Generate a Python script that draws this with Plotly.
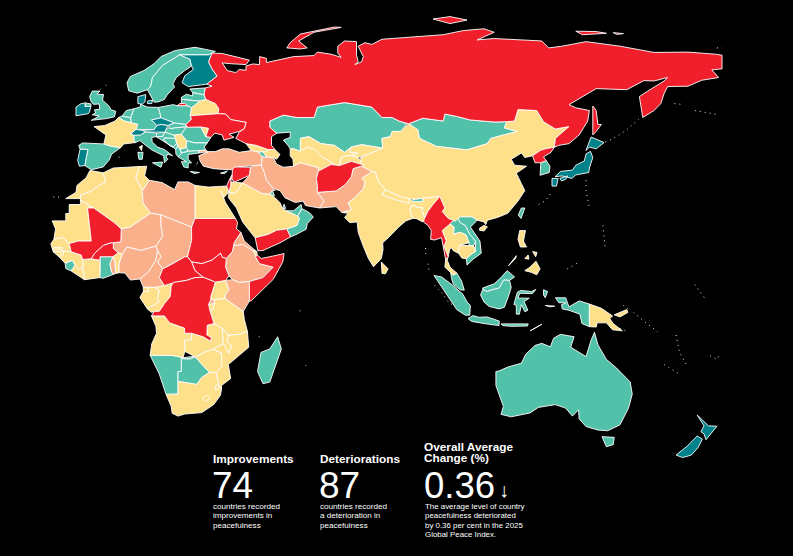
import plotly.graph_objects as go

# outlines, as (lon, lat)
rus = [(28,59.5),(30,60),(28.5,60.6),(31.5,62.9),(30,65),(29,67),(30,69.5),(33,69.4),(41,67.5),(40,66.2),(35,66.5),(33,66.7),(34.5,64.5),(37,63.9),(38,64.8),(40,64.6),(40,65.8),(42,66.4),(44,66.2),(44,68.5),(46,68),(46,66.8),(54,68.5),(60,68.8),(61,69.8),(65,69.2),(68,68.3),(67,69.5),(67,71.5),(69,73),(72.5,72.8),(72.5,69),(73,67),(72,66.2),(74,67),(74.5,68.5),(73,71.5),(75,72.5),(77,72),(80,73.5),(87,74),(98,74.8),(104,76),(110,76.5),(113,75.5),(108,73.3),(113,73.7),(127,73),(129,71),(133,71.5),(140,72.8),(150,71.5),(160,69.7),(170,69.8),(178,69.2),(180,68.9),(180,65),(177,64.7),(179,62.5),(174,61.7),(170,60),(164,59.9),(163,58),(162,55),(160,53),(156.7,51),(155.7,57),(158,58.5),(163,61.5),(164,62.5),(160,61.5),(157,61.6),(152,59),(143,59.3),(135,54.7),(137,53.8),(141,53),(140.5,50),(138,46),(135,43.5),(132,43),(130.7,42.5),(131,45),(135,48.4),(131,47.7),(127.5,49.8),(125.5,53),(120,53.3),(119,50),(116.7,49.8),(113,49.7),(106,50.3),(102,51.3),(98.5,52),(98,50),(92,50.8),(87.8,49.2),(85,50),(83,51),(80,51),(77,54),(71,55),(69,55.3),(61,54),(60,51),(55,51),(51,51.7),(47,50),(47,48.2),(49,46.5),(47.5,45.5),(47.5,43),(48.5,41.8),(46.5,41.8),(43,43),(40,43.5),(37,45),(38,46.8),(39.5,47.8),(40,49.6),(35.5,50.4),(34,52),(31.8,52.1),(32,53.5),(31,55),(28.2,56.2),(27.7,57.5)]
kaliningrad = [(19.8,54.4),(22.8,54.4),(22,55.1),(20.5,55)]
novaya_zemlya = [(52,71),(56,70.7),(58,71),(55.5,73),(60,75.5),(68,76.9),(66,77),(56,75),(53,72.5)]
sakhalin = [(142,54.3),(143,53),(143.5,49),(144.5,49),(143,47),(142,46),(142,50)]
new_siberia = [(137,75.8),(143,75.7),(146,75.2),(139,74.8)]
new_siberia2 = [(148,75.4),(151,75.1),(149,74.9)]
severnaya = [(95,79.3),(100,80),(105,79),(100,78)]
kaz = [(47,50),(51,51.7),(55,51),(60,51),(61,54),(69,55.3),(71,55),(77,54),(80,51),(83,51),(85,50),(87.3,49.2),(85.5,47),(83,47),(82.5,45.5),(80,45),(80.2,42.2),(74,43.2),(71,42.5),(69,41),(66,43),(62,43.5),(58.5,45.5),(56,45),(56,41.3),(54,42),(53,42),(52.5,42.8),(51,44.5),(53,45.3),(53,46.8),(49,46.5),(47,48.2)]
mng = [(87.8,49.2),(92,50.8),(98,50),(98.5,52),(102,51.3),(106,50.3),(113,49.7),(116.7,49.8),(116,48),(119.8,47),(112,45),(111,43.5),(105,41.7),(96,42.7),(91,45),(90.5,47.5)]
chn = [(73.7,39.5),(74,37),(76,35.5),(78,35.3),(79,32.5),(81,30.2),(86,28),(89,27.5),(92,27.8),(97,28.3),(98.5,25),(97.7,24),(99.5,22),(101.5,21.2),(103,22.5),(106.5,22.5),(108,21.5),(110,21),(110.5,20.2),(111,21.5),(114,22.3),(117,23.5),(120,27),(122,30),(121,32),(119.5,35),(122.5,37),(119,37.3),(118,39),(121,40.8),(122,39.5),(124.3,40),(126.5,41.5),(128,42),(130.7,42.5),(131,45),(135,48.4),(131,47.7),(127.5,49.8),(125.5,53),(120,53.3),(119,50),(116.7,49.8),(116,48),(119.8,47),(112,45),(111,43.5),(105,41.7),(96,42.7),(91,45),(90.5,47.5),(87.8,49.2),(85.5,47),(83,47),(82.5,45.5),(80,45),(80.2,42.2),(76,40.5)]
hainan = [(108.7,19.2),(110,20),(111,19.6),(110,18.4),(108.7,18.6)]
ind = [(77,35.5),(78,35.3),(79,32.5),(81,30.2),(80,28.8),(84,27.4),(88,26.4),(88,27.8),(89,26.8),(92,26.8),(92,27.8),(97,28.3),(95,26),(93.5,24),(92.5,22),(92,23.8),(91.5,24.2),(92.2,25),(89.8,25.3),(89,26),(88.2,24.5),(89,22),(87,21.3),(85,19.6),(82,16.6),(80.2,15),(80.3,13),(79.8,10.5),(77.5,8.1),(76,10.5),(74.5,14),(73,18),(72.7,21),(70.5,20.8),(69,22.3),(70,23.5),(68.2,23.7),(71,24.5),(70,26.5),(72,28),(74.5,30.5),(75,32.5),(74,33.5)]
pak = [(61.6,25),(66.5,25.4),(68.2,23.7),(71,24.5),(70,26.5),(72,28),(74.5,30.5),(75,32.5),(74,33.5),(77,35.5),(74,37),(71.5,36.3),(71,34),(69.3,31.8),(66.5,29.9),(61,29.5),(63,27)]
afg = [(61,29.5),(66.5,29.9),(69.3,31.8),(71,34),(71.5,36.3),(74.8,37.3),(71,38.4),(67.5,37.2),(65,37.5),(61.3,35.6),(60.7,33.5),(61,31.4)]
irn = [(44.8,39.7),(48,39.5),(49,37.6),(51,36.7),(54,37),(56,38),(61.2,36.6),(61.3,35.6),(60.7,33.5),(61,31.4),(61,29.5),(63,27),(61.6,25),(57.5,25.7),(56.8,27),(54.5,26.6),(51.5,27.9),(50,30),(48.8,30.3),(47.7,31),(46,33),(45.5,35),(44.5,37.3)]
irq = [(44.5,37.3),(45.5,35),(46,33),(47.7,31),(48.5,30),(47.7,30),(47,29),(44.7,29.2),(39,32.2),(41,34.4),(41.3,36.7),(42.5,37.2)]
syr = [(36,36),(36.7,36.8),(41.3,36.7),(41,34.4),(38.8,33.4),(36.5,32.4),(35.9,33.4)]
lbn = [(35.1,33.1),(35.9,33.4),(36.5,34.6),(35.9,34.6)]
isr = [(34.3,31.3),(35,29.5),(35.5,31.5),(35.6,33.2),(35.1,33.1)]
jor = [(35,29.4),(36.9,29.2),(38,30.5),(39,32.2),(36.5,32.4),(35.5,32.5),(35.5,31.5)]
tur = [(26.1,40),(26.5,38.5),(27.5,37),(30.5,36.3),(33,36.1),(36,36),(36.7,36.8),(42.5,37.2),(44.5,37.3),(44.8,39.7),(43.5,41.1),(41.5,41.5),(38,41),(35,42),(33,42),(31,41.2),(29,41.2)]
tur_thrace = [(26.2,40.8),(26.2,41.5),(28.2,41.6),(29,41.1),(27.5,41)]
geo = [(40,43.5),(43,43),(46.5,41.8),(46,41.2),(43.5,41.1),(41.5,41.5)]
arm = [(43.5,41.1),(45,41.2),(46.5,39),(44.8,39.7)]
aze = [(46.5,41.8),(48.5,41.8),(50,40.4),(49,39),(48,39.5),(46.5,39),(45,41.2),(46,41.2)]
sau = [(34.8,28),(35,29.4),(36.9,29.2),(39,32.2),(44.7,29.2),(47,29),(48.5,28),(50,26.5),(50.8,24.8),(51.6,24.2),(55.2,22.7),(55.7,22),(55,20),(52,19),(49,18.6),(46.5,17.4),(43.2,16.6),(42.7,16.4),(39,21),(37.2,25)]
yem = [(42.7,16.4),(43.2,16.6),(46.5,17.4),(49,18.6),(52,19),(53.1,16.7),(50,15),(45,12.8),(43.5,12.7),(43,14.5)]
omn = [(55,20),(55.7,22),(55.2,22.7),(56.3,24.5),(56.5,24.8),(58.7,23.6),(59.8,22.4),(58,20.5),(57.7,18.9),(55,17.5),(53.1,16.7),(52,19)]
are = [(51.6,24.2),(54,24.2),(56.2,26),(56.4,24.9),(55.2,22.7)]
qat = [(50.8,24.8),(51.2,26.1),(51.6,25),(51.5,24.6)]
kwt = [(47,29),(47.7,30),(48.4,28.6),(47.7,28.5)]
tkm = [(53,42),(54,42),(56,41.3),(58,42.5),(60,42),(62,40),(66.5,37.3),(65,37.5),(61.3,35.6),(61.2,36.6),(56,38),(54,37),(53.8,39),(53,40)]
uzb = [(56,45),(58.5,45.5),(62,43.5),(66,43),(69,41),(71,42.5),(70.5,41),(73,40.8),(71,40),(68,39.5),(67.5,37.2),(66.5,37.3),(62,40),(60,42),(58,42.5),(56,41.3)]
kgz = [(69.5,40),(73,39.5),(76,40.5),(80.2,42.2),(74,43.2),(71,42.5),(70.5,41),(73,40.8),(71,40)]
tjk = [(67.5,37.2),(68,39.5),(69.5,40),(71,40),(73,39.5),(74.8,37.3),(71,38.4)]
npl = [(80,28.8),(81,30.2),(86,28),(88,27.8),(88,26.4),(84,27.4)]
btn = [(89,26.8),(89,27.5),(92,27.8),(92,26.8)]
bgd = [(88.2,24.5),(89,26),(89.8,25.3),(92.2,25),(91.5,24.2),(92,23.8),(92.5,22),(92,21),(90,22),(89,22)]
mmr = [(92.2,21),(92.5,22),(93.5,24),(95,26),(97,28.3),(98.5,25),(97.7,24),(99.5,22),(101,21.5),(100,20.4),(97.7,18.5),(98.9,15.5),(98.2,14),(99.5,11),(98.7,10.3),(98,14),(97.5,16.5),(95.5,15.8),(94.3,16),(94.5,18.5),(93.5,20)]
tha = [(100,20.4),(101.2,19.5),(101,17.5),(103,18),(104.7,17.3),(105.6,15),(102.8,14.3),(102.5,12),(101,12.7),(100.5,13.5),(100,13.4),(99.2,10),(100,8),(102,6.3),(101,5.7),(100.2,6.5),(98.5,8),(98.7,10.3),(99.5,11),(98.2,14),(98.9,15.5),(97.7,18.5)]
lao = [(100,20.4),(101,21.5),(102.2,22.4),(103,20.8),(104.5,20),(105.8,17.5),(107.5,15.5),(107,14.2),(105.6,14.2),(105.6,15),(104.7,17.3),(103,18),(101,17.5),(101.2,19.5)]
vnm = [(102.2,22.4),(103,22.5),(106.5,22.5),(108,21.5),(106,19.5),(108.8,15.5),(109.2,12),(106.8,10.3),(105,8.6),(104.8,10.4),(106,11.5),(107.5,12.5),(107.5,15.5),(105.8,17.5),(104.5,20),(103,20.8)]
khm = [(102.5,12),(102.8,14.3),(105.6,14.2),(107,14.2),(107.5,12.5),(106,11.5),(104.8,10.4),(103.5,10.6)]
mys_west = [(100.2,6.5),(101,5.7),(102,6.3),(103.4,4),(104.2,1.4),(103,1.5),(101,3),(100.4,5)]
mys_east = [(109.6,2),(111.4,2.7),(113,3.2),(115,5),(116.8,7),(119,5.2),(117.5,4.2),(115.8,4.3),(114.5,2),(112,1.4),(111,1),(109.7,1.5)]
kalimantan = [(109.6,1.5),(111,1),(112,1.4),(114.5,2),(115.8,4.3),(117.5,4.2),(118,2.2),(117.5,0.5),(116,-3.5),(114.5,-4),(111.5,-3.3),(110,-2),(109,0)]
sumatra = [(95.3,5.6),(97.5,5.2),(100.5,3),(103.8,0.2),(105,-2),(106,-3),(105.8,-5.8),(104.5,-5.8),(102,-4.2),(100.3,-1.8),(98.3,1.2)]
java = [(105.3,-6.8),(106.7,-5.9),(108.5,-6.4),(110.9,-6.3),(114.5,-7.5),(114.4,-8.8),(110,-8.2),(106.4,-7.6)]
sulawesi = [(119.8,0.8),(120.8,1.3),(124,1),(125.2,1.6),(124.3,0.4),(120.5,0.5),(120,-0.9),(121.5,-0.9),(123.3,-0.9),(121.8,-1.9),(122.9,-4.4),(122,-4.8),(121,-2.8),(120.4,-5.5),(119.5,-5.5),(119.5,-3),(118.8,-2.7)]
sunda = [(115,-8.3),(119,-8.3),(123,-8.3),(122.8,-8.9),(118,-9),(115.5,-8.8)]
timor = [(123.6,-10.3),(127,-8.4),(125,-9.6)]
halmahera = [(127.5,1.5),(128.7,1),(128,-0.8),(127.5,0)]
seram = [(128,-3),(130.8,-3.2),(129.5,-3.4)]
papua = [(131,-0.8),(134,-0.8),(135,-3.4),(138,-1.7),(141,-2.6),(141,-9.1),(138.8,-8.2),(138.2,-5.5),(135,-4.4),(133,-4),(132.8,-2.8),(134,-2.3),(132,-2.2)]
png = [(141,-2.6),(144.5,-3.8),(147.8,-6),(147,-6.8),(148,-8.2),(150.7,-10.3),(147.8,-10),(146,-8),(143.3,-8),(143,-9.2),(141,-9.1)]
new_britain = [(148.3,-5.7),(152,-4.2),(152.3,-5),(150,-6.3)]
luzon = [(120.5,18.5),(122.2,18.5),(121.6,15.5),(122.5,13.8),(120.7,13.8),(120,16)]
mindanao = [(122,7),(123.5,8),(125.3,9.7),(126.5,7.5),(125.5,5.8),(124,6.5)]
samar = [(124.3,12.5),(125.6,12.2),(125.2,11)]
panay = [(122,10.5),(123,11.5),(123.2,10.3)]
palawan = [(117.2,8.4),(119.5,11.3),(119.3,10.5)]
twn = [(120.1,23),(121,25),(122,25),(120.9,22)]
prk = [(124.3,40),(126.5,41.5),(128,42),(130.7,42.5),(129.7,41),(127.5,39.7),(128.3,38.6),(126.7,38),(125,38)]
kor = [(126.7,38),(128.3,38.6),(129.4,37),(129.2,35.2),(126.5,34.4),(126.5,36.5)]
honshu = [(130.9,34),(132.5,35.5),(136,35.9),(137,37.3),(139.5,38.5),(140,40.5),(141.3,41.3),(142,39.5),(141,36.5),(140.8,35.2),(137,34.5),(135.8,33.5),(133,34.2)]
hokkaido = [(140,41.5),(141.5,45.4),(145.3,43.8),(143,42),(141,42.5)]
kyushu = [(130,33.5),(131.8,33.5),(131.3,31.3),(130,31.3)]
shikoku = [(132.3,33.5),(134.6,34.2),(134,33.2),(132.8,32.8)]
lka = [(79.8,9.5),(81.8,7.5),(81,6.1),(80,6.2)]

ukr = [(24,50.5),(23.6,51.5),(31.8,52.1),(34,52),(35.5,50.4),(40,49.6),(39.5,47.8),(38,47),(35,46.2),(36.5,45.3),(33.5,44.5),(33,46),(30.8,46.5),(29.7,45.3),(28.2,45.5),(29,47.9),(26.7,48.3),(22.8,48.2),(22.3,49)]
blr = [(23.6,51.5),(31.8,52.1),(32,53.5),(31,55),(28.2,56.2),(26.5,55.7),(24,53.8)]
mda = [(26.7,48.3),(29,47.9),(30,46.5),(28.2,45.5)]
pol = [(14.2,53.9),(18.6,54.7),(19.8,54.4),(22.8,54.4),(24,53.8),(23.6,51.5),(24,50.5),(22.3,49),(19,49.4),(15,50.9),(14.7,52.3)]
deu = [(6.1,51),(7,53.5),(8.9,54),(9,54.8),(11,54),(14.2,53.9),(14.7,52.3),(15,50.9),(12.2,50.3),(13.8,48.7),(13,47.5),(7.6,47.6),(8.2,49),(6.2,49.5)]
cze = [(12.2,50.3),(15,50.9),(18.8,49.5),(17,48.7),(15,49),(13.8,48.7)]
svk = [(17,48.7),(18.8,49.5),(19,49.4),(22.3,49),(22.5,48.3),(19,48),(18,47.8)]
aut = [(9.5,47.3),(13,47.5),(13.8,48.7),(15,49),(17,48.7),(16.1,46.8),(12.2,46.8),(10.4,46.9)]
hun = [(16.1,46.8),(17,48.1),(18,47.8),(19,48),(22.5,48.3),(21,46.2),(18.8,45.9)]
che = [(6,46.2),(7.6,47.6),(9.5,47.3),(10.4,46.9),(9,46),(7,45.9)]
svn = [(13.6,45.5),(13.7,46.5),(16.1,46.8),(15.5,45.6)]
hrv = [(13.6,45.5),(15.5,45.6),(16.1,46.8),(18.8,45.9),(19.3,45),(16,45.2),(15.8,44.5),(17.5,43),(18.5,42.5),(15,44.6),(14.3,45.2)]
bih = [(16,45.2),(19.3,45),(19.6,43.5),(18.5,42.5),(17.5,43),(15.8,44.5)]
srb = [(18.8,45.9),(21,46.2),(22.5,44.3),(22.4,42.4),(20.6,41.9),(20,42.9),(19.6,43.5),(19.3,45)]
mne = [(18.5,42.5),(19.6,43.5),(20,42.9),(19.3,41.9)]
alb = [(19.3,41.9),(20,42.9),(20.6,41.9),(21,40.6),(20,39.7),(19.4,40.5)]
mkd = [(20.6,41.9),(22.4,42.4),(23,41.3),(21,40.9)]
bgr = [(22.5,44.3),(25,43.7),(28.6,43.7),(27.7,42.5),(28.2,41.6),(26.2,41.5),(23,41.3),(22.4,42.4)]
rou = [(21,46.2),(22.5,48.3),(22.8,48.2),(26.7,48.3),(28.2,45.5),(29.7,45.3),(28.6,43.7),(25,43.7),(22.5,44.3)]
grc = [(20,39.7),(21,40.6),(21,40.9),(23,41.3),(26.2,41.5),(26.2,40.8),(23,40.4),(23,39),(24,38),(23,37.9),(23,36.5),(21.7,36.8),(21,38.3),(22.5,38.3)]
crete = [(23.6,35.5),(26.3,35.2),(24.8,34.9)]
cyprus = [(32.5,35),(34.5,35.6),(33.7,34.9)]
ita = [(7,45.9),(9,46),(10.4,46.9),(12.2,46.8),(13.7,46.5),(13.6,45.5),(12.3,45.3),(12.4,44),(14,42.5),(16,41.8),(18.4,40),(17,40.5),(16.5,39.7),(17,39),(16,38),(15.8,40),(14,41),(12.3,41.7),(10.5,43),(8.8,44.4),(7.5,43.8),(7,44.5)]
sicily = [(12.5,38),(15.5,38.2),(15,36.7)]
sardinia = [(8.2,41),(9.7,41),(9.5,39),(8.5,39)]
corsica = [(8.6,42.5),(9.5,43),(9.3,41.5)]
fra = [(-1.8,43.4),(-1.2,46),(-4.7,48.4),(-1.5,48.7),(1.5,50),(2.5,51),(4.2,50),(6.2,49.5),(8.2,49),(7.6,47.6),(6,46.2),(7,45.9),(7,44.5),(7.5,43.8),(4,43.4),(3.2,42.4),(0.5,42.7)]
esp = [(-9.2,43),(-8,43.7),(-1.8,43.4),(0.5,42.7),(3.2,42.4),(0.5,40.5),(-0.3,38.7),(-2,36.8),(-5.5,36),(-7.4,37.2),(-7,39.5),(-6.5,41.8),(-8.8,41.9)]
prt = [(-8.8,41.9),(-6.5,41.8),(-7,39.5),(-7.4,37.2),(-9,37),(-9.5,38.7)]
bel = [(2.5,51),(3.5,51.4),(6,51),(6.2,49.5),(4.2,50)]
nld = [(3.5,51.4),(4.8,53),(7,53.5),(6.1,51)]
dnk = [(8.2,55),(8.2,57),(10.5,57.6),(10.3,55.5),(9.5,54.85)]
zealand = [(11,55.7),(12.5,56),(12.3,55),(11,55)]
gbr = [(-5.5,50.2),(-1,50.7),(1.3,51.2),(1.7,52.8),(0.3,53.2),(-0.2,54.2),(-1.3,55.2),(-2.2,56),(-1.9,57.6),(-3.8,57.7),(-3,58.6),(-5.2,58.6),(-6,57),(-5.5,55.5),(-4.9,54.8),(-3.2,54.9),(-3,53.4),(-4.6,53.2),(-4.2,52.3),(-5.2,51.8),(-3.2,51.4)]
n_ireland = [(-7.3,55.2),(-5.6,54.9),(-5.6,54.2),(-7.4,54.2)]
irl = [(-7.3,55.2),(-7.4,54.2),(-5.6,54.2),(-6.1,52.4),(-6.5,52.1),(-10,51.5),(-10,54),(-8.5,55)]
nor = [(5,61),(6,62.8),(10,64.5),(13,66.5),(15,68.5),(19,70.2),(25,71.2),(31,70),(30,69.5),(29,69),(25.5,69),(20.5,69),(15.5,66),(12.5,62.5),(12,60),(11,59),(8,58),(5.5,58.7)]
swe = [(11,59),(12,60),(12.5,62.5),(15.5,66),(20.5,69),(23.5,67.8),(24,65.8),(22,64.5),(19.5,62.5),(18.5,60.7),(19,59.8),(16.8,57.5),(16,56.2),(14.3,55.5),(13,55.4),(11.5,58)]
fin = [(20.5,69),(25.5,69),(29,69),(30,69.5),(29,67),(30,65),(31.5,62.9),(28.5,60.6),(23,59.9),(21.2,61),(22,63),(24.5,64.8),(24,65.8),(23.5,67.8)]
est = [(23.5,59.2),(28,59.5),(27.7,57.5),(25,58),(24.3,58.2)]
lva = [(21,56.8),(22.5,57.7),(24.3,57.2),(24.3,58.2),(25,58),(27.7,57.5),(28.2,56.2),(26.5,55.7),(21,56.2)]
ltu = [(21,56.2),(26.5,55.7),(24,53.8),(22.8,54.4),(21,55.2)]

mar = [(-5.9,35.8),(-2,35.1),(-1.2,32.5),(-3.5,31.3),(-5.5,29.8),(-8.7,28.7),(-8.7,27.7),(-13,27.7),(-10,29.5),(-9.7,31.5),(-7,33.7)]
mrt = [(-17,21.3),(-13,21.3),(-13,23.4),(-12,23.4),(-12,26),(-8.7,26),(-8.7,27.3),(-4.8,25),(-6.6,25),(-5.5,15.5),(-9.3,15.5),(-12,14.8),(-14,16.5),(-16.5,16),(-16,19)]
dza = [(-4.8,25),(1,21),(3.3,19),(6,19.5),(11.9,23.5),(9.7,26.5),(9.5,30.2),(7.6,33.5),(8.6,36.9),(1,36.5),(-2,35.1),(-1.2,32.5),(-3.5,31.3),(-5.5,29.8),(-8.7,28.7),(-8.7,27.3)]
tun = [(8.6,36.9),(10.8,37),(10.2,34.3),(11.5,33),(10,30.5),(9.5,30.2),(7.6,33.5)]
lby = [(11.5,33),(15.3,32.3),(19,30.3),(20,32.5),(23,32.5),(25,31.5),(25,22),(24,19.5),(15,23),(11.9,23.5),(9.7,26.5),(9.5,30.2),(10,30.5)]
egy = [(25,31.5),(29,31),(32,31.2),(34.3,31.3),(35,29.5),(33.5,28),(32.6,29.9),(34,26.5),(36.9,22),(25,22)]
sdn = [(25,22),(36.9,22),(37.5,20.8),(37.2,19),(38.5,18),(36.5,15),(36,12.5),(34.2,10.5),(33,10.8),(32.5,12),(30,10),(27,9),(24,9.5),(22.8,11),(24,15.7),(24,19.5)]
ssd = [(24,9.5),(27,9),(30,10),(32.5,12),(33,10.8),(34.2,10.5),(34,8),(35,5.5),(34,4.2),(31,3.7),(27.4,5.1),(25,7)]
caf = [(14.5,5),(15.5,7.5),(18.5,9),(22,11),(22.8,11),(24,9.5),(25,7),(27.4,5.1),(25,5),(22.5,4.2),(19,3.6),(16,2.7)]
cod = [(12.2,-6),(13,-4.7),(14.5,-4.7),(16,-2.5),(17.7,-0.5),(18,2.5),(18.6,3.6),(22.5,4.2),(25,5),(27.4,5.1),(31,3.7),(29.7,-0.3),(29.6,-1.4),(29,-2.7),(29.4,-4.5),(30.6,-8.2),(28.6,-8.7),(28.5,-11.5),(29.8,-12.2),(29.6,-13.3),(27.4,-12),(24,-11),(22,-11),(21.9,-9.5),(17.5,-8),(16,-6)]
rwa = [(29,-2.7),(29.6,-1.4),(30.5,-1.2),(30.8,-2.4)]
bdi = [(29,-2.7),(30.8,-2.4),(30.2,-4.3),(29.4,-4.5)]
uga = [(29.6,-1.4),(29.7,-0.3),(31,3.7),(34,4.2),(35,1.5),(33.9,0),(33.9,-1),(30.5,-1.2)]
ken = [(34,4.2),(36,4.4),(38,3.6),(41,3.9),(41,-1.7),(39.2,-4.7),(33.9,-1),(33.9,0),(35,1.5)]
tza = [(30.5,-1.2),(33.9,-1),(39.2,-4.7),(39.5,-7),(40.4,-10.4),(38,-11.3),(34.7,-11.5),(33,-9.5),(30.6,-8.2),(29.4,-4.5),(30.2,-4.3),(30.8,-2.4)]
eth = [(36,12.5),(36.5,14.3),(37.5,14.3),(39,14.6),(42,12.8),(43,11),(42.8,10.9),(44,9),(48,8),(45,5),(42,4.2),(41,3.9),(38,3.6),(36,4.4),(35,5.5),(34,8),(34.2,10.5)]
eri = [(36.5,15),(38.5,18),(39.5,15.5),(43,12.6),(42,12.8),(39,14.6),(37.5,14.3),(36.5,14.3)]
dji = [(42,12.8),(43.2,12.5),(43.3,11.5),(42.8,10.9)]
som = [(43.3,11.5),(44.5,10.5),(48,11.2),(51.2,11.9),(50.8,9.5),(48,4.5),(41.5,-1.7),(41,-1.7),(41,3.9),(42,4.2),(45,5),(48,8),(44,9),(42.8,10.9)]
tcd = [(15,23),(24,19.5),(24,15.7),(22.8,11),(22,11),(18.5,9),(15.5,7.5),(14,9.5),(15,11),(14,12.8),(13.5,14),(15.5,16.9),(15,20)]
ner = [(3.3,19),(6,19.5),(11.9,23.5),(15,23),(15,20),(15.5,16.9),(13.5,14),(9,12.8),(5,13.8),(3.6,11.7),(2.4,12.2),(1,13.3),(1,15),(3.2,15.3)]
mli = [(-12,14.8),(-9.3,15.5),(-5.5,15.5),(-6.6,25),(-4.8,25),(1,21),(3.3,19),(3.2,15.3),(1,15),(0,14.9),(-2,14.2),(-4.5,12),(-5.5,10.4),(-8,10.2),(-8.5,11.5),(-11.4,12.4)]
bfa = [(-5.5,10.4),(-4.5,12),(-2,14.2),(0,14.9),(1,15),(1,13.3),(2.4,12.2),(0.9,11),(-2.9,11),(-3,10)]
sen = [(-16.5,16),(-14,16.5),(-12,14.8),(-11.4,12.4),(-13.7,12.6),(-16.7,12.4),(-17.4,14.7)]
gmb = [(-16.8,13.6),(-14,13.6),(-14,13.2),(-16.8,13.2)]
gnb = [(-16.7,12.4),(-13.7,12.6),(-13.7,11.7),(-15,11)]
gin = [(-15,11),(-13.7,11.7),(-13.7,12.6),(-11.4,12.4),(-8.5,11.5),(-8,10.2),(-7.9,8),(-9,7.3),(-10.3,8.5),(-11,10),(-13.2,9.1)]
sle = [(-13.2,9.1),(-11,10),(-10.3,8.5),(-11.4,6.9),(-13,7.6)]
lbr = [(-11.4,6.9),(-10.3,8.5),(-9,7.3),(-8,7.7),(-7.5,4.4)]
civ = [(-8,10.2),(-5.5,10.4),(-3,10),(-2.9,8),(-3,5),(-7.5,4.4),(-8,7.7),(-7.9,8)]
gha = [(-3,5),(-2.9,8),(-3,10),(-2.9,11),(0.9,11),(0,9),(0.5,6.5),(1.2,6),(-2,4.8)]
tgo = [(1.2,6),(0.5,6.5),(0,9),(0.9,11),(1.4,9.5),(1.7,6.2)]
ben = [(1.7,6.2),(1.4,9.5),(0.9,11),(2.4,12.2),(3.6,11.7),(2.7,9),(2.7,6.4)]
nga = [(2.7,6.4),(2.7,9),(3.6,11.7),(5,13.8),(9,12.8),(13.5,14),(14,12.8),(13.5,10),(11.5,6.8),(8.8,4.6),(6,4.3),(4.4,6.3)]
cmr = [(8.8,4.6),(11.5,6.8),(13.5,10),(14,12.8),(15,11),(14,9.5),(15.5,7.5),(14.5,5),(16,2.7),(13,2.2),(9.8,2.3)]
gab = [(8.8,-0.7),(9.8,1),(11.3,1),(11.3,2.3),(13,2.2),(14.5,1.4),(14,-1),(14.5,-2),(11.8,-3.5),(11,-4)]
gnq = [(9.8,1),(9.8,2.3),(11.3,2.3),(11.3,1)]
cog = [(11,-4),(11.8,-3.5),(14.5,-2),(14,-1),(14.5,1.4),(13,2.2),(16,2.7),(18.6,3.6),(18,2.5),(17.7,-0.5),(16,-2.5),(14.5,-4.7),(13,-4.7),(12.2,-5)]
ago = [(11.8,-17.3),(14,-17.4),(18.5,-17.4),(21.5,-18),(22,-16.2),(22,-13),(24,-13),(24,-11),(22,-11),(21.9,-9.5),(17.5,-8),(16,-6),(12.2,-6),(13.5,-9),(13.7,-11),(12.3,-14)]
nam = [(11.8,-17.3),(14,-17.4),(18.5,-17.4),(21.5,-18),(25,-17.6),(23.5,-18.4),(21,-18.3),(21,-22),(20,-22),(20,-28.5),(17,-28.5),(16.5,-28.6),(14.5,-22.7)]
bwa = [(20,-22),(21,-22),(21,-18.3),(23.5,-18.4),(25,-17.8),(27.5,-20.5),(29.3,-22.2),(27,-23.7),(25.5,-25.7),(23,-25.3),(20,-24.8)]
zaf = [(16.5,-28.6),(17,-28.5),(20,-28.5),(20,-24.8),(23,-25.3),(25.5,-25.7),(27,-23.7),(29.3,-22.2),(31.3,-22.3),(32,-25.8),(32.8,-27),(32.5,-28.8),(30.5,-31.5),(27,-33.8),(22,-34.2),(20,-34.8),(18.3,-34),(18,-32)]
lso = [(27.2,-29.8),(28.5,-28.7),(29.4,-29.5),(28.2,-30.6)]
swz = [(31,-26),(32,-25.8),(32,-27),(31,-27.2)]
zwe = [(25.2,-17.8),(27.5,-20.5),(29.3,-22.2),(31.3,-22.3),(32.9,-20.5),(32.8,-16.7),(30.3,-15.6),(28,-16.3)]
zmb = [(22,-13),(24,-13),(24,-11),(27.4,-12),(29.6,-13.3),(29.8,-12.2),(28.5,-11.5),(28.6,-8.7),(30.6,-8.2),(33,-9.5),(33.3,-14),(30.3,-15.6),(28,-16.3),(25.2,-17.8),(22,-16.2)]
mwi = [(33,-9.5),(34.7,-11.5),(34.5,-13.5),(35.8,-14.6),(35,-16.8),(33.3,-14)]
moz = [(34.7,-11.5),(38,-11.3),(40.4,-10.4),(40.8,-15),(36,-19),(34.8,-20),(35.5,-24),(32.8,-26),(32.8,-27),(32,-25.8),(31.3,-22.3),(32.9,-20.5),(32.8,-16.7),(30.3,-15.6),(33.3,-14),(35,-16.8),(35.8,-14.6),(34.5,-13.5)]
mdg = [(49.3,-12),(50.4,-15.5),(47,-25),(45,-25.5),(43.4,-22),(44.4,-16.5),(47,-15.5)]

aus = [(113.5,-22),(114.5,-21.8),(117,-20.7),(121,-19.6),(122.3,-17),(125,-14.5),(127,-13.9),(129.5,-14.9),(130.5,-12.4),(132.5,-11.3),(136.5,-12),(135.5,-15),(140,-17.7),(141.5,-13),(142.5,-10.7),(143.5,-14.3),(146,-18.5),(149,-21),(153,-25),(153.6,-28.5),(152.5,-32.5),(150,-37.3),(146.4,-39),(143.5,-38.8),(140,-37.8),(138,-35.6),(137.8,-33),(136,-34.8),(134,-32.5),(131,-31.5),(126,-32.3),(123.5,-33.9),(118,-35),(115,-34.3),(115.7,-32),(113.5,-26)]
tasmania = [(144.7,-40.7),(148.3,-40.9),(148,-43),(146,-43.6)]
nzl_north = [(172.7,-34.5),(175.3,-36.8),(176,-37.6),(178.5,-37.7),(177,-39.5),(175.3,-41.6),(174.7,-39.9),(173.8,-39.3),(174.7,-37.6)]
nzl_south = [(172.7,-40.5),(174.2,-41.4),(173,-43.8),(171,-46),(168.4,-46.7),(166.5,-46),(169.8,-43.4)]

# small island chains, only visible as white specks
island_lines = [
    [(92.8,13.5),(92.9,11.5)], [(93.5,9),(93.8,7.2)], [(95.5,2.8),(97.5,0.8),(99.5,-2),(101,-3)],
    [(145.7,43.9),(149,45.5),(152,47.5),(155.5,50.5)], [(166,55),(168,54.8)], [(172,53),(176,52.3),(179,51.8)],
    [(129.5,29),(128,27),(126,26)], [(140,33),(140,30),(141,25)], [(145,20),(145.7,13)],
    [(154,-5),(157,-7.5),(161,-10.5)], [(166.5,-11.5),(167.5,-16.5),(169.5,-20)],
    [(163,-20),(167,-22.5)], [(176.5,-17.5),(178.5,-18.5),(179.5,-17)], [(150,-9.5),(152,-10.5)], [(151,-3),(153,-4.5)],
    [(-16.7,28.2),(-15.5,28),(-14,28.6)], [(2.5,39.6),(3.3,39.8)], [(25.5,37.5),(26,38.5),(25,37)],
    [(-1.3,60.4),(-1,60)], [(-3,59),(-2.8,59.1)], [(56,-4.6),(55.5,-4.4)], [(57.5,-20.2),(57.7,-20.4)],
    [(44,-12),(43.4,-11.7)], [(134.5,7.5),(138,9.5)], [(172,3),(175,-1)],
    [(178.5,71),(180,71.2)],
]

teal = [nor, swe, est, lva, ltu, gbr, n_ireland, esp, deu, pol, svk, hun, rou, bgr, grc, crete, cyprus, alb, mkd, mne,
        bih, hrv, svn, ita, sicily, sardinia, bel, nld, arm, kwt, qat, are, omn, kaz, mng, btn, lao, vnm, mys_west, mys_east,
        kalimantan, sumatra, java, sulawesi, sunda, timor, halmahera, seram, papua, kor, twn, aus, tasmania, mdg, nam, bwa,
        sle, gha]
dark_teal = [fin, dnk, zealand, irl, prt, cze, aut, che, honshu, hokkaido, kyushu, shikoku, nzl_north, nzl_south]
yellow = [fra, corsica, blr, mda, srb, geo, aze, jor, sau, tkm, uzb, kgz, tjk, chn, hainan, ind, npl, bgd, lka, tha, khm,
          luzon, mindanao, samar, panay, palawan, png, new_britain, mar, mrt, dza, tun, egy, sen, gmb, gnb, gin, lbr, civ, ben, gab, gnq,
          cog, ago, zaf, lso, swz, zwe, zmb, mwi, moz, tza, uga, bdi, dji]
salmon = [tur, tur_thrace, irq, irn, lbn, pak, lby, ner, tcd, nga, cmr, tgo, eth, eri, ken, rwa]
red = [rus, kaliningrad, novaya_zemlya, sakhalin, new_siberia, new_siberia2, severnaya, ukr, syr, isr, yem, afg, mmr, prk, mli, bfa,
       sdn, ssd, caf, cod, som]

group_colours = [("#52C1A9", teal), ("#00828A", dark_teal), ("#FFE08A", yellow), ("#F9B08B", salmon), ("#F01F2B", red)]

fig = go.Figure()

for colour, polygons in group_colours:
    for polygon in polygons:
        lons, lats = zip(*polygon)
        fig.add_trace(go.Scatter(x=lons + lons[:1], y=lats + lats[:1], mode="lines", fill="toself",
                                 fillcolor=colour, line=dict(color="white", width=0.9),
                                 hoverinfo="skip", showlegend=False))

for chain in island_lines:
    lons, lats = zip(*chain)
    fig.add_trace(go.Scatter(x=lons, y=lats, mode="lines", line=dict(color="white", width=0.9, dash="1px,4px"),
                             hoverinfo="skip", showlegend=False))

font_name = "Liberation Sans, Arial, sans-serif"


def add_text(fig, text, px, py, size, bold=False):
    fig.add_annotation(text="<b>" + text + "</b>" if bold else text, xref="paper", yref="paper",
                       x=px / 793, y=1 - py / 556, xanchor="left", yanchor="middle", align="left",
                       showarrow=False, borderpad=0, font=dict(family=font_name, size=size, color="white"))


add_text(fig, "Improvements", 212, 458.5, 11.8, True)
add_text(fig, "74", 211, 485, 37)
add_text(fig, "countries recorded", 212, 506.5, 8.1)
add_text(fig, "improvements in", 212, 515.5, 8.1)
add_text(fig, "peacefulness", 212, 525, 8.1)

add_text(fig, "Deteriorations", 319, 458.5, 11.8, True)
add_text(fig, "87", 318, 485, 37)
add_text(fig, "countries recorded", 319, 506.5, 8.1)
add_text(fig, "a deterioration in", 319, 515.5, 8.1)
add_text(fig, "peacefulness", 319, 525, 8.1)

add_text(fig, "Overall Average", 423, 447, 11.8, True)
add_text(fig, "Change (%)", 423, 457.5, 11.8, True)
add_text(fig, "0.36", 423, 485, 36.6)
add_text(fig, "<b>↓</b>", 498, 489.5, 20)
add_text(fig, "The average level of country", 424, 506.5, 7.9)
add_text(fig, "peacefulness deteriorated", 424, 515.5, 7.9)
add_text(fig, "by 0.36 per cent in the 2025", 424, 525, 7.9)
add_text(fig, "Global Peace Index.", 424, 534, 7.9)

fig.update_layout(width=793, height=556, paper_bgcolor="black", plot_bgcolor="black",
                  margin=dict(l=0, r=0, t=0, b=0),
                  xaxis=dict(visible=False, range=[-32.35, 200.88], fixedrange=True),
                  yaxis=dict(visible=False, range=[-75, 84.77], fixedrange=True))

fig.write_html("out.html", config=dict(displayModeBar=False),
               post_script="document.body.style.margin='0';document.body.style.background='black';")
